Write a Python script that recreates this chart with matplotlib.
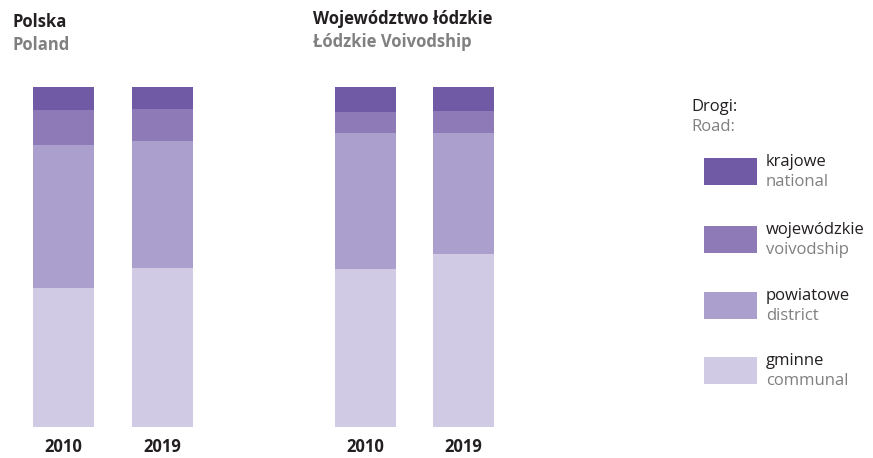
import matplotlib
matplotlib.use("Agg")
import matplotlib.pyplot as plt
from matplotlib.patches import Rectangle

plt.rcParams['font.family'] = ['Open Sans', 'DejaVu Sans']

years = ["2010", "2019"]
categories_pl = ["krajowe", "wojewódzkie", "powiatowe", "gminne"]
categories_en = ["national", "voivodship", "district", "communal"]
# shares in %: national, voivodship, district, communal
polska = {
    "2010": [6.8, 10.3, 42.0, 40.9],
    "2019": [6.5, 9.4, 37.4, 46.7],
}
lodzkie = {
    "2010": [7.4, 6.2, 40.0, 46.4],
    "2019": [7.1, 6.5, 35.6, 50.8],
}
colors = ["#705AA5", "#8D7AB7", "#ABA0CD", "#D0CAE4"]

W, H = 873, 458
fig = plt.figure(figsize=(W / 100, H / 100), dpi=100)

DARK = "#231f20"
GREY = "#808080"
FS = 12

def px_ax(left, right, top, bottom):
    return fig.add_axes([left / W, 1 - bottom / H, (right - left) / W, (bottom - top) / H])

def draw_group(ax, data, width):
    for i, y in enumerate(years):
        vals = data[y]
        bottom = 0
        for k in [3, 2, 1, 0]:
            ax.bar(i, vals[k], bottom=bottom, width=width, color=colors[k], linewidth=0)
            bottom += vals[k]
    ax.set_xlim(-0.5, 1.5)
    ax.set_ylim(0, 100)
    ax.axis("off")
    for i, y in enumerate(years):
        ax.text(i, -6.0, y, ha="center", va="center", fontsize=FS, fontweight="bold", color=DARK,
                clip_on=False)

ax1 = px_ax(14, 212, 87, 427)
draw_group(ax1, polska, 61 / 99)
ax2 = px_ax(316.5, 512.5, 87, 427)
draw_group(ax2, lodzkie, 61 / 98)

fig.text(12 / W, 1 - 22 / H, "Polska", fontsize=FS, fontweight="bold", color=DARK, va="center", ha="left")
fig.text(12 / W, 1 - 45 / H, "Poland", fontsize=FS, fontweight="bold", color=GREY, va="center", ha="left")
fig.text(313 / W, 1 - 19 / H, "Województwo łódzkie", fontsize=FS, fontweight="bold", color=DARK, va="center", ha="left")
fig.text(313 / W, 1 - 42 / H, "Łódzkie Voivodship", fontsize=FS, fontweight="bold", color=GREY, va="center", ha="left")

fig.text(691 / W, 1 - 107 / H, "Drogi:", fontsize=FS, color=DARK, va="center", ha="left")
fig.text(691 / W, 1 - 127 / H, "Road:", fontsize=FS, color=GREY, va="center", ha="left")

tops = [158, 226, 292, 357]
for k in range(4):
    t = tops[k]
    fig.patches.append(Rectangle((704 / W, 1 - (t + 27) / H), 53 / W, 27 / H,
                                 transform=fig.transFigure, color=colors[k], linewidth=0))
    fig.text(766 / W, 1 - (t + 4) / H, categories_pl[k], fontsize=FS, color=DARK, va="center", ha="left")
    fig.text(766 / W, 1 - (t + 24) / H, categories_en[k], fontsize=FS, color=GREY, va="center", ha="left")

fig.savefig("out.png", dpi=100)
